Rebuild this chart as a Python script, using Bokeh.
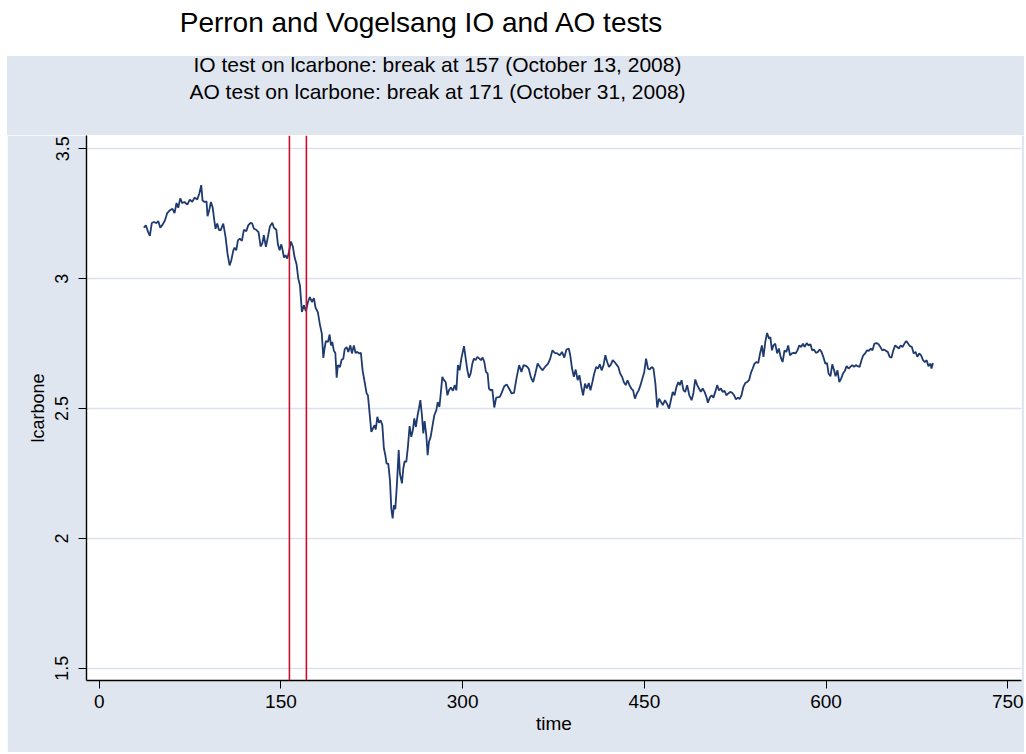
from bokeh.plotting import figure
from bokeh.layouts import column, row
from bokeh.models import Range1d, FixedTicker, Span, Div
from bokeh.embed import file_html
from bokeh.resources import INLINE

# ---------------- data ----------------
title_text = "Perron and Vogelsang IO and AO tests"
subtitle_io = "IO test on lcarbone: break at 157 (October 13, 2008)"
subtitle_ao = "AO test on lcarbone: break at 171 (October 31, 2008)"
x_label = "time"
y_label = "lcarbone"
break_io = 157
break_ao = 171
x_ticks = [0, 150, 300, 450, 600, 750]
y_ticks = [1.5, 2, 2.5, 3, 3.5]
y_tick_labels = ["1.5", "2", "2.5", "3", "3.5"]

time = [
    36.8, 38.5, 40.4, 41.8, 43.4, 45.1, 47.3, 48.7, 50.4, 52.3, 54.2, 56.1, 58.3, 60.5, 62.2, 63.8,
    65.2, 66.9, 68.5, 70.4, 72.7, 74.8, 76.8, 78.7, 80.9, 82.6, 84.2, 85.3, 87.0, 88.6, 89.4, 90.8,
    92.2, 93.6, 95.0, 96.0, 97.4, 98.8, 100.2, 102.4, 104.3, 105.9, 107.6, 109.0, 110.7, 111.7, 113.1,
    114.5, 116.1, 117.8, 119.4, 121.4, 123.0, 124.9, 126.3, 127.7, 129.6, 131.5, 133.2, 134.6, 135.9,
    137.6, 139.2, 140.9, 142.9, 144.2, 146.2, 147.5, 148.9, 150.3, 151.4, 152.5, 153.8, 155.2, 156.6,
    158.2, 159.9, 161.3, 162.9, 164.3, 165.7,
    167.3, 169.0, 170.6, 172.3, 173.9, 175.6, 177.2, 178.6, 180.5, 182.2, 183.7, 185.0, 186.0, 187.1,
    188.8, 190.2, 191.3, 192.4, 193.7, 194.9, 196.0, 197.0, 198.7, 200.1, 201.5, 202.6, 204.2, 205.6,
    207.3, 208.6, 210.2, 211.6, 213.0, 214.7, 216.0, 217.4, 219.1, 220.7, 221.8, 223.2, 224.6, 225.9,
    227.3, 228.2, 229.6, 230.9, 232.3, 233.7, 235.0, 236.2, 237.2, 238.6, 240.0, 241.1, 242.2, 243.3,
    244.4, 245.7, 247.2, 248.2, 249.9, 251.0, 252.1, 253.5, 254.8, 256.2, 257.6, 258.9, 260.1, 261.4,
    262.8, 263.9, 265.1, 266.4, 267.5, 268.6, 270.0, 271.1, 272.2, 273.6, 275.2, 276.6, 278.3, 279.4,
    280.8, 281.8, 283.2, 284.6, 286.0, 287.4, 288.7, 290.3, 292.0, 293.4, 294.8, 296.1, 297.5, 298.9,
    301.1, 302.7, 303.9, 305.2, 306.6, 308.0, 309.3, 310.7, 312.1, 313.8, 315.1, 316.5, 317.9, 319.2,
    320.6, 321.7, 323.1, 324.5,
    326.1, 327.7, 330.7, 332.2, 334.4, 336.3, 338.3, 340.5, 342.4, 344.4, 346.6, 348.5, 350.3, 352.7,
    354.5, 356.4, 358.2, 360.0, 361.9, 363.8, 365.8, 368.0, 370.5, 372.3, 374.1, 376.0, 378.1, 380.2,
    382.0, 383.9, 385.7, 387.6, 388.8, 390.3, 391.8, 393.3, 394.9, 396.4, 398.0, 399.4, 401.0, 402.5,
    404.1, 405.5, 407.1, 408.6, 410.2, 411.7, 413.2, 414.7, 416.3, 417.8, 419.3, 420.8, 422.4, 423.9,
    425.4, 426.9, 428.5, 430.0, 431.6, 433.0, 434.6, 436.1, 437.7, 439.2, 440.7, 442.2, 443.8, 445.3,
    446.8, 448.3, 449.9, 451.4, 453.0, 454.4, 456.0, 457.5, 459.1, 460.6, 462.1, 463.6, 465.2, 467.0,
    468.8, 470.4, 471.9, 473.4, 474.9, 476.5, 478.0, 479.2, 480.7, 482.3, 483.7, 485.3, 487.1, 489.0,
    490.5, 492.0, 493.6, 495.1, 496.6, 498.1, 499.7, 501.2, 502.4, 504.0, 505.5, 507.0, 508.5, 510.1,
    511.6, 513.2, 514.6, 516.2, 517.7, 519.3, 520.8, 522.6, 524.1, 525.6, 527.2, 528.7, 530.2, 531.7,
    533.3, 534.8, 536.4, 537.8, 539.4, 540.9, 542.5, 544.0, 545.5, 547.0, 548.3, 549.8, 551.3, 552.9,
    554.0, 555.3, 556.5, 558.0, 559.6, 561.0, 562.6, 564.1, 565.7, 567.2, 568.7, 570.2, 571.8, 573.3,
    574.8, 576.3, 577.9, 579.4, 580.9, 582.4, 584.0, 585.5, 587.1, 588.5, 590.1, 591.6, 593.2, 594.7,
    596.2, 597.7, 599.3, 600.8, 602.0, 603.6, 605.1, 606.6, 607.8, 609.4, 610.9, 612.4, 614.0, 615.5,
    616.9, 618.5, 620.0, 621.6, 623.1, 624.6, 626.1, 627.7, 629.2, 630.7, 632.2, 633.8, 635.3, 636.9,
    638.3, 639.9, 641.7, 643.3, 644.8, 646.4, 647.8, 649.4, 650.9, 652.5, 654.0, 655.5, 657.0, 658.6,
    660.1, 661.6, 663.1, 664.7, 666.2, 667.7, 669.2, 670.8, 672.3, 673.9, 675.3, 676.9, 678.4, 680.0,
    681.5, 683.0, 684.5, 686.1, 687.0, 688.2,
]

lcarbone = [
    3.196, 3.205, 3.179, 3.165, 3.214, 3.218, 3.214, 3.222, 3.196, 3.208, 3.224, 3.252, 3.263, 3.269, 3.252, 3.291,
    3.273, 3.309, 3.291, 3.295, 3.285, 3.304, 3.296, 3.312, 3.305, 3.327, 3.360, 3.301, 3.295, 3.297, 3.240, 3.263,
    3.295, 3.275, 3.224, 3.192, 3.212, 3.188, 3.186, 3.212, 3.160, 3.096, 3.051, 3.070, 3.109, 3.119, 3.109,
    3.147, 3.154, 3.145, 3.188, 3.183, 3.205, 3.215, 3.212, 3.192, 3.188, 3.179, 3.124, 3.135, 3.167,
    3.122, 3.160, 3.201, 3.215, 3.196, 3.188, 3.132, 3.109, 3.132, 3.109, 3.081, 3.090, 3.077, 3.102,
    3.143, 3.122, 3.081, 3.055, 3.000, 2.974,
    2.872, 2.897, 2.875, 2.910, 2.929, 2.910, 2.925, 2.888, 2.870, 2.822, 2.790, 2.695, 2.731, 2.760,
    2.756, 2.785, 2.743, 2.756, 2.722, 2.714, 2.619, 2.667, 2.660, 2.688, 2.692, 2.728, 2.737, 2.718,
    2.743, 2.712, 2.743, 2.714, 2.718, 2.712, 2.714, 2.647, 2.602, 2.558, 2.551, 2.481, 2.410, 2.423,
    2.436, 2.419, 2.468, 2.445, 2.455, 2.436, 2.346, 2.320, 2.288, 2.288, 2.224, 2.115, 2.077, 2.128,
    2.112, 2.205, 2.340, 2.250, 2.212, 2.269, 2.297, 2.295, 2.352, 2.432, 2.391, 2.417, 2.462, 2.429,
    2.474, 2.500, 2.532, 2.474, 2.404, 2.452, 2.397, 2.320, 2.372, 2.391, 2.436, 2.474, 2.494, 2.525,
    2.506, 2.551, 2.622, 2.609, 2.602, 2.551, 2.570, 2.581, 2.568, 2.590, 2.570, 2.667, 2.647, 2.692,
    2.740, 2.686, 2.647, 2.619, 2.635, 2.673, 2.692, 2.686, 2.699, 2.692, 2.686, 2.696, 2.679, 2.641,
    2.635, 2.577, 2.570, 2.573,
    2.504, 2.542, 2.545, 2.560, 2.586, 2.593, 2.577, 2.558, 2.560, 2.615, 2.667, 2.641, 2.667, 2.663,
    2.654, 2.619, 2.602, 2.635, 2.673, 2.660, 2.647, 2.660, 2.673, 2.692, 2.724, 2.714, 2.712, 2.705,
    2.718, 2.696, 2.727, 2.731, 2.705, 2.654, 2.622, 2.650, 2.609, 2.628, 2.583, 2.551, 2.596, 2.577,
    2.598, 2.570, 2.602, 2.635, 2.660, 2.654, 2.670, 2.647, 2.667, 2.705, 2.679, 2.660, 2.670, 2.686,
    2.679, 2.670, 2.660, 2.635, 2.622, 2.602, 2.590, 2.609, 2.590, 2.577, 2.570, 2.538, 2.558, 2.570,
    2.590, 2.615, 2.641, 2.692, 2.654, 2.650, 2.660, 2.654, 2.596, 2.504, 2.538, 2.526, 2.513, 2.532,
    2.517, 2.500, 2.532, 2.564, 2.551, 2.583, 2.602, 2.590, 2.609, 2.570, 2.564, 2.590, 2.551, 2.532,
    2.560, 2.612, 2.590, 2.577, 2.564, 2.577, 2.564, 2.545, 2.522, 2.542, 2.551, 2.542, 2.564, 2.590,
    2.570, 2.577, 2.564, 2.568, 2.551, 2.558, 2.564, 2.560, 2.551, 2.535, 2.542, 2.537, 2.551, 2.583,
    2.598, 2.602, 2.609, 2.635, 2.654, 2.673, 2.679, 2.675, 2.712, 2.743, 2.699, 2.756, 2.791, 2.769,
    2.775, 2.724, 2.743, 2.750, 2.712, 2.731, 2.696, 2.679, 2.724, 2.718, 2.743, 2.705, 2.712, 2.714,
    2.712, 2.724, 2.743, 2.737, 2.750, 2.737, 2.752, 2.743, 2.747, 2.724, 2.727, 2.714, 2.718, 2.727,
    2.718, 2.699, 2.673, 2.675, 2.635, 2.624, 2.670, 2.647, 2.624, 2.647, 2.602, 2.615, 2.635, 2.645,
    2.663, 2.654, 2.660, 2.667, 2.660, 2.667, 2.663, 2.660, 2.686, 2.705, 2.712, 2.724, 2.722, 2.731,
    2.724, 2.750, 2.752, 2.747, 2.737, 2.724, 2.727, 2.722, 2.718, 2.699, 2.696, 2.724, 2.743, 2.737,
    2.731, 2.743, 2.737, 2.750, 2.760, 2.750, 2.740, 2.737, 2.712, 2.718, 2.699, 2.712, 2.705, 2.686,
    2.679, 2.686, 2.663, 2.673, 2.654, 2.675,
]

# ---------------- styling ----------------
FONT = "Liberation Sans"
BG = "#e0e6ef"
LINE_COLOR = "#1f3a6e"
RED = "#c8102e"
GRID = "#dbe2ec"
W = 1017          # width of the graph region (page x 7 .. 1024)

# title band (white)
head_html = (
    '<div style="position:relative;width:1026px;height:56px;background:#ffffff;">'
    '<div style="position:absolute;left:0;top:9px;width:842px;text-align:center;'
    "font-family:'Liberation Sans';font-size:28px;line-height:28px;color:#000;"
    'white-space:nowrap;">' + title_text + '</div></div>'
)
head = Div(text=head_html, width=1026, height=56, margin=0)

# subtitle band (graph-region colour)
sub_html = (
    '<div style="position:relative;width:%dpx;height:79px;background:%s;">' % (W, BG)
    + '<div style="position:absolute;left:0;top:-2px;width:861px;text-align:center;'
    "font-family:'Liberation Sans';font-size:21px;line-height:21px;color:#000;"
    'white-space:nowrap;">' + subtitle_io + '</div>'
    + '<div style="position:absolute;left:0;top:25px;width:861px;text-align:center;'
    "font-family:'Liberation Sans';font-size:21px;line-height:21px;color:#000;"
    'white-space:nowrap;">' + subtitle_ao + '</div></div>'
)
sub = Div(text=sub_html, width=W, height=79, margin=0)

spacer = Div(text="", width=7, height=696, margin=0)

# main plot
p = figure(width=W, height=617, x_range=Range1d(-10.5, 761.3), y_range=Range1d(1.453, 3.551),
           min_border_left=79, min_border_right=3, min_border_top=0, min_border_bottom=72,
           toolbar_location=None, output_backend="svg", title=None,
           background_fill_color="white", border_fill_color=BG,
           outline_line_color=None, margin=0)

p.line(time, lcarbone, line_color=LINE_COLOR, line_width=1.8)

for b in (break_io, break_ao):
    p.add_layout(Span(location=b, dimension="height", line_color=RED, line_width=1.6))

p.xgrid.visible = False
p.ygrid.ticker = FixedTicker(ticks=y_ticks)
p.ygrid.grid_line_color = GRID
p.ygrid.grid_line_width = 1.5

p.xaxis.ticker = FixedTicker(ticks=x_ticks)
p.yaxis.ticker = FixedTicker(ticks=y_ticks)
p.yaxis.major_label_overrides = {t: s for t, s in zip(y_ticks, y_tick_labels)}
p.yaxis.major_label_orientation = "vertical"

for ax in (p.xaxis, p.yaxis):
    ax.axis_line_color = "black"
    ax.axis_line_width = 1.4
    ax.major_tick_line_color = "black"
    ax.major_tick_line_width = 1
    ax.major_tick_out = 8
    ax.major_tick_in = 0
    ax.minor_tick_line_color = None
    ax.major_label_text_font = FONT
    ax.major_label_text_color = "black"
    ax.axis_label_text_font = FONT
    ax.axis_label_text_font_style = "normal"
    ax.axis_label_text_color = "black"

p.xaxis.axis_label = x_label
p.yaxis.axis_label = y_label
p.xaxis.major_label_text_font_size = "19px"
p.xaxis.axis_label_text_font_size = "19px"
p.yaxis.major_label_text_font_size = "18px"
p.yaxis.axis_label_text_font_size = "18px"
p.xaxis.major_label_standoff = 6
p.xaxis.axis_label_standoff = 2
p.yaxis.major_label_standoff = 10
p.yaxis.axis_label_standoff = 5

layout = column(head, row(spacer, column(sub, p, spacing=0), spacing=0), spacing=0)

open("out.html", "w").write(file_html(layout, INLINE))
